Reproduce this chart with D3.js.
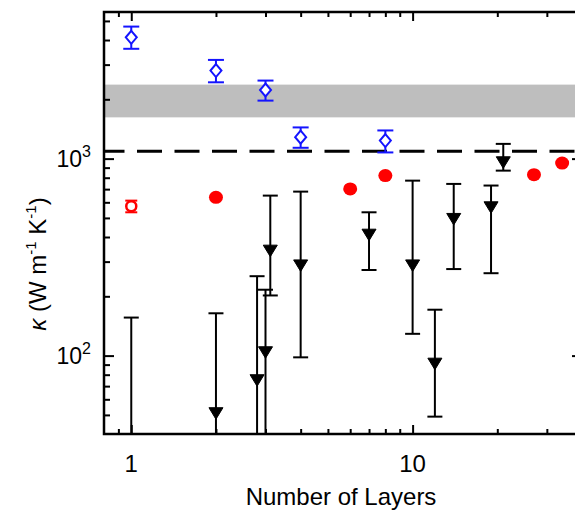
<!DOCTYPE html>
<html><head><meta charset="utf-8">
<script src="https://cdn.jsdelivr.net/npm/d3@7"></script>
<style>body{margin:0;background:#fff}svg{display:block}text{font-family:"Liberation Sans",Arial,sans-serif;fill:#000}</style>
</head><body><svg id="c" width="575" height="511"></svg>
<script>
// ---- data ----
const diamondX = [1, 2, 3, 4, 8];
const diamondY = [4130, 2800, 2230, 1285, 1235];
const diamondLo = [3610, 2440, 1970, 1135, 1075];
const diamondHi = [4680, 3170, 2490, 1440, 1390];

const openCircleX = [1];
const openCircleY = [573];
const openCircleLo = [534];
const openCircleHi = [612];

const circleX = [2, 6, 8, 27, 34];
const circleY = [636, 702, 820, 829, 949];

const triX = [1, 2, 2.8, 3, 3.12, 4, 7, 10, 12, 14, 19, 21];
const triY = [30, 51, 75, 104, 341, 287, 411, 287, 91, 494, 566, 958];
const triLo = [10, 10, 10, 10, 202, 98, 272, 129, 49, 275, 262, 869];
const triHi = [156, 164, 253, 216, 649, 680, 534, 773, 171, 744, 730, 1188];

const bandRange = [1620, 2375];
const dashValue = 1089;

const xMajor = [1, 10];
const xMinor = [0.9, 2, 3, 4, 5, 6, 7, 8, 9, 20, 30, 40];
const yMajor = [100, 1000];
const yMinor = [50, 60, 70, 80, 90, 200, 300, 400, 500, 600, 700, 800, 900, 2000, 3000, 4000, 5000];
const xLabels = ["1", "10"];
const yLabelExp = ["2", "3"];

// ---- layout ----
const L = 104, T = 12, R = 582, B = 434;
const svg = d3.select("#c");
const x = d3.scaleLog().domain([0.8, 40]).range([L, R]);
const y = d3.scaleLog().domain([40, 5550]).range([B, T]);

svg.append("defs").append("clipPath").attr("id", "clip")
  .append("rect").attr("x", L).attr("y", T).attr("width", R - L).attr("height", B - T);
const plot = svg.append("g").attr("clip-path", "url(#clip)");

// band
plot.append("rect").attr("x", L).attr("width", R - L)
  .attr("y", y(bandRange[1])).attr("height", y(bandRange[0]) - y(bandRange[1]))
  .attr("fill", "#bebebe");

// dashed line
plot.append("line").attr("x1", L).attr("x2", R).attr("y1", y(dashValue)).attr("y2", y(dashValue))
  .attr("stroke", "#000").attr("stroke-width", 3).attr("stroke-dasharray", "25,12.5").attr("stroke-dashoffset", 4.5);

function errBars(g, xs, lo, hi, color, cap) {
  xs.forEach((xv, i) => {
    const px = x(xv);
    g.append("line").attr("x1", px).attr("x2", px).attr("y1", y(lo[i])).attr("y2", y(hi[i]))
      .attr("stroke", color).attr("stroke-width", 2);
    [lo[i], hi[i]].forEach(v => {
      g.append("line").attr("x1", px - cap).attr("x2", px + cap).attr("y1", y(v)).attr("y2", y(v))
        .attr("stroke", color).attr("stroke-width", 2);
    });
  });
}

// black triangles
errBars(plot, triX, triLo, triHi, "#000", 7.5);
plot.selectAll(".tri").data(triX).enter().append("path")
  .attr("d", "M-7,-5.5L7,-5.5L0,6Z")
  .attr("transform", (d, i) => `translate(${x(d)},${y(triY[i])})`)
  .attr("fill", "#000").attr("stroke", "#000").attr("stroke-width", 1);

// blue diamonds
errBars(plot, diamondX, diamondLo, diamondHi, "#1414ff", 8);
plot.selectAll(".dia").data(diamondX).enter().append("path")
  .attr("d", "M0,-6.5L5.5,0L0,6.5L-5.5,0Z")
  .attr("transform", (d, i) => `translate(${x(d)},${y(diamondY[i])})`)
  .attr("fill", "#fff").attr("stroke", "#1414ff").attr("stroke-width", 2);

// red filled circles
plot.selectAll(".rc").data(circleX).enter().append("ellipse")
  .attr("cx", d => x(d)).attr("cy", (d, i) => y(circleY[i]))
  .attr("rx", 7).attr("ry", 6.5).attr("fill", "#ff0000");

// red open circle
errBars(plot, openCircleX, openCircleLo, openCircleHi, "#ff0000", 6);
plot.selectAll(".oc").data(openCircleX).enter().append("circle")
  .attr("cx", d => x(d)).attr("cy", (d, i) => y(openCircleY[i]))
  .attr("r", 5).attr("fill", "#fff").attr("stroke", "#ff0000").attr("stroke-width", 2.5);

// ---- axes ----
function styleAxis(g) {
  g.select(".domain").remove();
  g.selectAll("line").attr("stroke", "#000").attr("stroke-width", 2);
  g.selectAll("text").remove();
}
svg.append("g").attr("transform", `translate(${L},0)`).call(d3.axisLeft(y).tickValues(yMajor).tickSize(-10)).call(styleAxis);
svg.append("g").attr("transform", `translate(${L},0)`).call(d3.axisLeft(y).tickValues(yMinor).tickSize(-6)).call(styleAxis);
svg.append("g").attr("transform", `translate(${R},0)`).call(d3.axisRight(y).tickValues(yMajor).tickSize(-10)).call(styleAxis);
svg.append("g").attr("transform", `translate(${R},0)`).call(d3.axisRight(y).tickValues(yMinor).tickSize(-6)).call(styleAxis);
svg.append("g").attr("transform", `translate(0,${B})`).call(d3.axisBottom(x).tickValues(xMajor).tickSize(-9)).call(styleAxis);
svg.append("g").attr("transform", `translate(0,${B})`).call(d3.axisBottom(x).tickValues(xMinor).tickSize(-5)).call(styleAxis);
svg.append("g").attr("transform", `translate(0,${T})`).call(d3.axisTop(x).tickValues(xMajor).tickSize(-9)).call(styleAxis);
svg.append("g").attr("transform", `translate(0,${T})`).call(d3.axisTop(x).tickValues(xMinor).tickSize(-5)).call(styleAxis);

// frame
svg.append("rect").attr("x", L).attr("y", T).attr("width", R - L).attr("height", B - T)
  .attr("fill", "none").attr("stroke", "#000").attr("stroke-width", 2.5);

// tick labels
xMajor.forEach((v, i) => {
  svg.append("text").attr("x", x(v)).attr("y", 472).attr("text-anchor", "middle")
    .attr("font-size", 24).text(xLabels[i]);
});
yMajor.forEach((v, i) => {
  const t = svg.append("text").attr("x", 91).attr("y", y(v) + 8).attr("text-anchor", "end").attr("font-size", 23);
  t.append("tspan").text("10");
  t.append("tspan").attr("font-size", 16).attr("dy", -10).text(yLabelExp[i]);
});

// axis titles
svg.append("text").attr("x", 341).attr("y", 505).attr("text-anchor", "middle")
  .attr("font-size", 24).text("Number of Layers");

const yt = svg.append("text").attr("transform", "translate(46,264) rotate(-90)")
  .attr("text-anchor", "middle").attr("font-size", 24);
yt.append("tspan").attr("font-style", "italic").text("κ");
yt.append("tspan").text(" (W m");
yt.append("tspan").attr("font-size", 15).attr("dy", -10).text("-1");
yt.append("tspan").attr("dy", 10).text(" K");
yt.append("tspan").attr("font-size", 15).attr("dy", -10).text("-1");
yt.append("tspan").attr("dy", 10).text(")");
</script></body></html>
